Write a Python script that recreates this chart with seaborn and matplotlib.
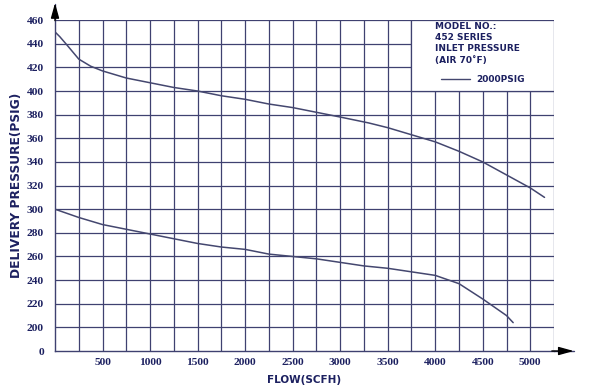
import numpy as np
import pandas as pd
import matplotlib
matplotlib.use("Agg")
import matplotlib.pyplot as plt
from matplotlib.patches import Rectangle
import seaborn as sns

# curve data (flow in SCFH, delivery pressure in PSIG)
upper_flow = [0, 50, 125, 250, 375, 500, 750, 1000, 1250, 1500, 1750, 2000, 2250,
              2500, 2750, 3000, 3300, 3500, 3750, 4000, 4250, 4500, 4750, 5000, 5150]
upper_psig = [450, 446, 439, 427, 421, 417, 411, 407, 403, 400, 396, 393, 389,
              386, 382, 378, 373, 369, 363, 357, 349, 340, 329, 318, 310]

lower_flow = [0, 250, 500, 750, 1000, 1250, 1500, 1750, 2000, 2250, 2500, 2750,
              3000, 3250, 3500, 3750, 4000, 4250, 4500, 4750, 4820]
lower_psig = [300, 293, 287, 283, 279, 275, 271, 268, 266, 262, 260, 258,
              255, 252, 250, 247, 244, 237, 224, 210, 204]

x_ticks = [500, 1000, 1500, 2000, 2500, 3000, 3500, 4000, 4500, 5000]
y_ticks = [180, 200, 220, 240, 260, 280, 300, 320, 340, 360, 380, 400, 420, 440, 460]
y_tick_labels = ["0"] + [str(v) for v in y_ticks[1:]]

legend_lines = ["MODEL NO.:", "452 SERIES", "INLET PRESSURE", "(AIR 70\u02daF)"]
legend_series = "2000PSIG"

navy = "#1c2060"
grid_col = "#3f4170"
curve_col = "#44476f"

sns.set_style("white")
plt.rcParams["font.family"] = ["DejaVu Sans"]

df = pd.concat([
    pd.DataFrame({"flow": upper_flow, "psig": upper_psig, "curve": "upper"}),
    pd.DataFrame({"flow": lower_flow, "psig": lower_psig, "curve": "lower"}),
])

fig = plt.figure(figsize=(6, 3.87), dpi=100)
ax = fig.add_axes([0.0917, 0.093, 0.8317, 0.855])

sns.lineplot(data=df, x="flow", y="psig", units="curve", estimator=None,
             color=curve_col, lw=1.1, ax=ax, zorder=3, sort=False)

ax.set_xlim(0, 5250)
ax.set_ylim(180, 460)

# grid every 250 SCFH / 20 PSIG
for xv in np.arange(250, 5251, 250):
    ax.axvline(xv, color=grid_col, lw=0.9, zorder=1)
for yv in y_ticks[1:]:
    ax.axhline(yv, color=grid_col, lw=0.9, zorder=1)

for s in ["top", "right"]:
    ax.spines[s].set_visible(False)
for s in ["left", "bottom"]:
    ax.spines[s].set_color(grid_col)
    ax.spines[s].set_linewidth(1.0)

# arrows on the axes
ax.annotate("", xy=(1.045, 0), xytext=(0.99, 0), xycoords="axes fraction",
            arrowprops=dict(arrowstyle="-|>,head_width=0.25,head_length=0.9",
                            color="black", lw=1.0), annotation_clip=False)
ax.annotate("", xy=(0, 1.06), xytext=(0, 0.99), xycoords="axes fraction",
            arrowprops=dict(arrowstyle="-|>,head_width=0.25,head_length=0.9",
                            color="black", lw=1.0), annotation_clip=False)
ax.plot([1.0, 1.04], [0, 0], transform=ax.transAxes, color=grid_col,
        lw=1.0, clip_on=False)
ax.plot([0, 0], [1.0, 1.05], transform=ax.transAxes, color=grid_col,
        lw=1.0, clip_on=False)

tick_font = dict(family="Liberation Serif", weight="bold", size=8.2, color=navy)
ax.set_xticks(x_ticks)
ax.set_xticklabels([str(v) for v in x_ticks], **tick_font)
ax.set_yticks(y_ticks)
ax.set_yticklabels(y_tick_labels, **tick_font)
ax.tick_params(axis="both", length=0)
ax.tick_params(axis="x", pad=5)
ax.tick_params(axis="y", pad=8)

ax.set_xlabel("FLOW(SCFH)", fontsize=7.5, fontweight="bold", color=navy, labelpad=6)
ax.set_ylabel("DELIVERY PRESSURE(PSIG)", fontsize=8.8, fontweight="heavy",
              color=navy, labelpad=3)

# legend panel in the top right corner
ax.add_patch(Rectangle((3750, 400), 1500, 60, facecolor="white",
                       edgecolor=grid_col, lw=0.9, zorder=4))
for i, line in enumerate(legend_lines):
    ax.text(3995, 455 - i * 9.7, line, fontsize=6.5, fontweight="bold",
            color=navy, va="center", ha="left", zorder=5)
ax.plot([4065, 4365], [410, 410], color=curve_col, lw=1, zorder=5)
ax.text(4430, 410, legend_series, fontsize=6.5, fontweight="bold",
        color=navy, va="center", ha="left", zorder=5)

fig.savefig("out.png", dpi=100)
